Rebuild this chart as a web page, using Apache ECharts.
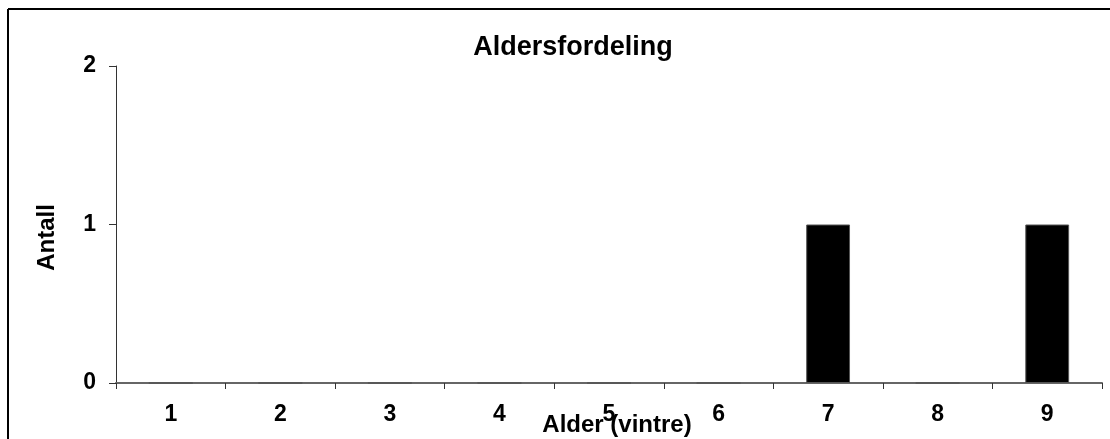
<!DOCTYPE html>
<html>
<head>
<meta charset="utf-8">
<script src="https://cdn.jsdelivr.net/npm/echarts@6/dist/echarts.min.js"></script>
<style>html,body{margin:0;padding:0;background:#fff;overflow:hidden}#c{width:1110px;height:439px}</style>
</head>
<body>
<div id="c"></div>
<script>
var titleText = 'Aldersfordeling';
var xName = 'Alder (vintre)';
var yName = 'Antall';
var categories = ['1','2','3','4','5','6','7','8','9'];
var counts = [0,0,0,0,0,0,1,0,1];
var yMin = 0, yMax = 2, yInterval = 1;

var FONT = '"Liberation Sans", Arial, sans-serif';
var chart = echarts.init(document.getElementById('c'), null, {renderer:'canvas', width: 1110, height: 439});
chart.setOption({
  animation: false,
  backgroundColor: '#fff',
  title: {
    text: titleText, left: 568, top: 29, textAlign: 'center',
    textStyle: {fontFamily: FONT, fontWeight: 'bold', fontSize: 27, color: '#000'}
  },
  grid: {left: 116, width: 986, top: 66, height: 317, containLabel: false, outerBoundsMode: 'none'},
  xAxis: {
    type: 'category', data: categories, boundaryGap: true,
    name: xName, nameLocation: 'middle', nameGap: 30, nameMoveOverlap: false,
    nameTextStyle: {fontFamily: FONT, fontWeight: 'bold', fontSize: 24, color: '#000', padding: [0,0,0,16]},
    axisLine: {lineStyle: {color: '#666', width: 2}},
    axisTick: {show: true, inside: false, length: 6, alignWithLabel: false, lineStyle: {color: '#333', width: 1}},
    axisLabel: {fontFamily: FONT, fontWeight: 'bold', fontSize: 23, color: '#000', margin: 20},
    splitLine: {show: false}
  },
  yAxis: {
    type: 'value', min: yMin, max: yMax, interval: yInterval,
    name: yName, nameLocation: 'middle', nameGap: 57, nameRotate: 90, nameMoveOverlap: false,
    nameTextStyle: {fontFamily: FONT, fontWeight: 'bold', fontSize: 24, color: '#000', padding: [0,26,0,0]},
    axisLine: {show: true, lineStyle: {color: '#333', width: 1}},
    axisTick: {show: true, inside: false, length: 7, lineStyle: {color: '#333', width: 1}},
    axisLabel: {fontFamily: FONT, fontWeight: 'bold', fontSize: 23, color: '#000', margin: 20},
    splitLine: {show: false}
  },
  series: [{
    type: 'bar', data: counts, barWidth: '40%',
    itemStyle: {color: '#000', borderColor: '#555', borderWidth: 1}
  }],
  graphic: [
    {type: 'line', shape: {x1: 8, y1: 9, x2: 1110, y2: 9}, style: {stroke: '#000', lineWidth: 2}},
    {type: 'line', shape: {x1: 8, y1: 9, x2: 8, y2: 439}, style: {stroke: '#000', lineWidth: 2}}
  ]
});
</script>
</body>
</html>
